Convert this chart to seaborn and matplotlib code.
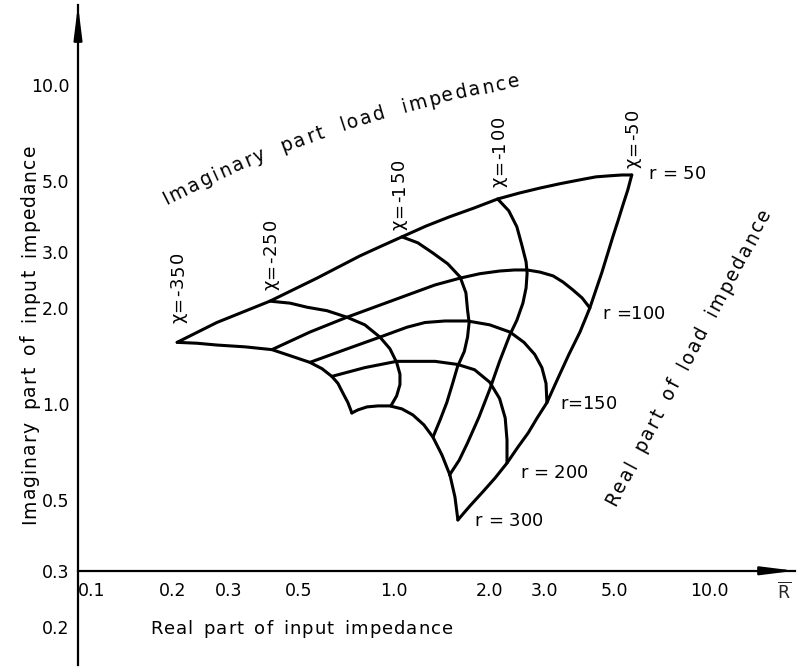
import numpy as np
import pandas as pd
import matplotlib
matplotlib.use("Agg")
import matplotlib.pyplot as plt
import seaborn as sns
from matplotlib.ticker import NullLocator
from matplotlib.textpath import TextPath
from matplotlib.font_manager import FontProperties
from matplotlib.transforms import IdentityTransform

# Constant load-resistance curves (r): input impedance, real / imaginary part
r50_x = [0.206, 0.275, 0.405, 0.571, 0.780, 0.903, 1.06, 1.263, 1.50, 1.79, 2.13,
         2.49, 2.90, 3.35, 3.88, 4.36, 4.83, 5.27, 5.66]
r50_y = [1.56, 1.80, 2.10, 2.48, 2.91, 3.11, 3.34, 3.61, 3.86, 4.11, 4.39,
         4.58, 4.75, 4.90, 5.04, 5.15, 5.19, 5.22, 5.22]
r100_x = [0.411, 0.542, 0.710, 1.083, 1.348, 1.62, 1.87, 2.16, 2.41, 2.64, 2.90,
          3.19, 3.43, 3.68, 3.94, 4.17]
r100_y = [1.48, 1.68, 1.87, 2.18, 2.36, 2.48, 2.56, 2.61, 2.63, 2.63, 2.59,
          2.52, 2.41, 2.28, 2.15, 2.00]
r150_x = [0.542, 0.700, 0.903, 1.10, 1.254, 1.45, 1.71, 2.01, 2.33, 2.58, 2.79,
          2.94, 3.03, 3.05]
r150_y = [1.35, 1.48, 1.62, 1.74, 1.80, 1.82, 1.82, 1.77, 1.68, 1.56, 1.43,
          1.30, 1.16, 1.01]
r200_x = [0.636, 0.809, 1.02, 1.15, 1.35, 1.59, 1.80, 2.01, 2.16, 2.25, 2.28, 2.28]
r200_y = [1.22, 1.30, 1.36, 1.36, 1.36, 1.33, 1.28, 1.17, 1.04, 0.904, 0.771, 0.653]
r300_x = [0.736, 0.769, 0.822, 0.890, 0.971, 1.06, 1.148, 1.244, 1.328, 1.419,
          1.504, 1.560, 1.594]
r300_y = [0.937, 0.958, 0.979, 0.986, 0.986, 0.965, 0.924, 0.860, 0.788, 0.692,
          0.599, 0.511, 0.433]

# Constant load-reactance curves (chi)
x50_x = [5.66, 5.50, 5.31, 5.12, 4.93, 4.55, 4.17, 3.88, 3.58, 3.30, 3.05, 2.84,
         2.66, 2.47, 2.28, 2.09, 1.91, 1.74, 1.594]
x50_y = [5.22, 4.69, 4.21, 3.75, 3.34, 2.58, 2.00, 1.68, 1.43, 1.20, 1.01, 0.904,
         0.811, 0.733, 0.653, 0.586, 0.530, 0.479, 0.433]
x100_x = [2.13, 2.31, 2.45, 2.54, 2.62, 2.64, 2.62, 2.56, 2.45, 2.33, 2.16, 2.01,
          1.86, 1.71, 1.61, 1.50]
x100_y = [4.39, 4.03, 3.59, 3.15, 2.79, 2.57, 2.31, 2.07, 1.83, 1.65, 1.36, 1.11,
          0.911, 0.755, 0.667, 0.599]
x150_x = [1.06, 1.19, 1.33, 1.48, 1.62, 1.69, 1.71, 1.73, 1.71, 1.67, 1.59, 1.53,
          1.47, 1.40, 1.33]
x150_y = [3.34, 3.20, 2.97, 2.75, 2.50, 2.23, 1.97, 1.80, 1.62, 1.46, 1.31, 1.15,
          1.01, 0.891, 0.788]
x250_x = [0.405, 0.469, 0.531, 0.614, 0.710, 0.809, 0.903, 0.971, 1.02, 1.045,
          1.045, 1.02, 0.978]
x250_y = [2.10, 2.07, 2.01, 1.96, 1.87, 1.77, 1.62, 1.49, 1.35, 1.24, 1.15, 1.06,
          0.986]
x350_x = [0.206, 0.238, 0.275, 0.338, 0.411, 0.476, 0.542, 0.592, 0.636, 0.665,
          0.690, 0.715, 0.736]
x350_y = [1.56, 1.55, 1.53, 1.51, 1.48, 1.41, 1.35, 1.29, 1.22, 1.16, 1.08, 1.01,
          0.937]

r_labels = ["r = 50", "r =100", "r=150", "r = 200", "r = 300"]
chi_labels = ["χ=-350", "χ=-250", "χ=-150", "χ=-100", "χ=-50"]

x_ticks = [0.1, 0.2, 0.3, 0.5, 1, 2, 3, 5, 10]
x_ticklabels = ["0.1", "0.2", "0.3", "0.5", "1.0", "2.0", "3.0", "5.0", "10.0"]
y_ticks = [0.2, 0.3, 0.5, 1, 2, 3, 5, 10]
y_ticklabels = ["0.2", "0.3", "0.5", "1.0", "2.0", "3.0", "5.0", "10.0"]

curves = [
    ("r50", r50_x, r50_y), ("r100", r100_x, r100_y), ("r150", r150_x, r150_y),
    ("r200", r200_x, r200_y), ("r300", r300_x, r300_y),
    ("x50", x50_x, x50_y), ("x100", x100_x, x100_y), ("x150", x150_x, x150_y),
    ("x250", x250_x, x250_y), ("x350", x350_x, x350_y),
]
df = pd.concat(
    [pd.DataFrame({"x": xs, "y": ys, "curve": name}) for name, xs, ys in curves],
    ignore_index=True,
)

sns.set_theme(style="white", rc={"axes.edgecolor": "black"})
plt.rcParams["font.family"] = ["DejaVu Sans"]
plt.rcParams["mathtext.fontset"] = "dejavusans"

W, H, DPI = 797, 670, 100
fig = plt.figure(figsize=(W / DPI, H / DPI), dpi=DPI)
fig.patch.set_facecolor("white")
ax = fig.add_axes([78 / W, 1 - 665 / H, (795 - 78) / W, (665 - 5) / H])
ax.set_xscale("log")
ax.set_yscale("log")
ax.set_xlim(0.1, 18.6)
ax.set_ylim(0.152, 17.8)
ax.patch.set_alpha(0)

sns.lineplot(data=df, x="x", y="y", units="curve", estimator=None, sort=False,
             color="black", linewidth=2.2, ax=ax, legend=False,
             solid_joinstyle="round", solid_capstyle="round")
ax.set_xlabel("")
ax.set_ylabel("")

# axes crossing at (0.1, 0.3)
for s in ("top", "right"):
    ax.spines[s].set_visible(False)
ax.spines["bottom"].set_position(("data", 0.3))
for s in ("left", "bottom"):
    ax.spines[s].set_linewidth(1.6)
    ax.spines[s].set_color("black")

ax.set_xticks(x_ticks, x_ticklabels)
ax.set_yticks(y_ticks, y_ticklabels)
ax.xaxis.set_minor_locator(NullLocator())
ax.yaxis.set_minor_locator(NullLocator())
ax.tick_params(axis="both", direction="in", length=9, width=1.5, labelsize=12.5,
               color="black", labelcolor="black")
ax.tick_params(axis="x", pad=8)
ax.tick_params(axis="y", pad=6)
ax.xaxis.get_major_ticks()[0].label1.set_horizontalalignment("left")

arrow = dict(arrowstyle="-|>,head_length=2.0,head_width=0.25", color="black",
             lw=1.6, shrinkA=0, shrinkB=0, mutation_scale=10)
ax.annotate("", xy=(1.0, 0.3), xycoords=ax.get_yaxis_transform(),
            xytext=(0.95, 0.3), textcoords=ax.get_yaxis_transform(),
            arrowprops=arrow, annotation_clip=False)
ax.annotate("", xy=(0.0, 1.0), xycoords="axes fraction",
            xytext=(0.0, 0.95), textcoords="axes fraction",
            arrowprops=arrow, annotation_clip=False)
fig.text(784, H - 598, r"$\overline{\mathrm{R}}$", transform=IdentityTransform(),
         fontsize=12.5, ha="center", va="baseline")


def advance(ch, fp):
    bar = TextPath((0, 0), "||", prop=fp).get_extents().width
    full = TextPath((0, 0), "|" + ch + "|", prop=fp).get_extents().width
    return (full - bar) * DPI / 72


def spaced_text(s, x0, y0, a0, a1=None, size=12, track=1.0, word_gap=0.0):
    """Letter-spaced text along a constant-curvature baseline.
    (x0, y0): baseline start in pixels from the top-left corner; angles in degrees."""
    fp = FontProperties(family="DejaVu Sans", size=size)
    advs = [advance(c, fp) + (word_gap if c == " " else 0.0) for c in s]
    total = sum(advs) + track * (len(s) - 1)
    a1 = a0 if a1 is None else a1
    t0, t1 = np.radians(a0), np.radians(a1)
    k = (t1 - t0) / total
    X0, Y0 = x0, H - y0

    def pos(d):
        t = t0 + k * d
        if abs(k) < 1e-9:
            return X0 + d * np.cos(t0), Y0 + d * np.sin(t0), t
        return X0 + (np.sin(t) - np.sin(t0)) / k, Y0 - (np.cos(t) - np.cos(t0)) / k, t

    d = 0.0
    for c, a in zip(s, advs):
        if c != " ":
            px, py, t = pos(d + a / 2)
            fig.text(px, py, c, transform=IdentityTransform(), fontproperties=fp,
                     rotation=np.degrees(t), rotation_mode="anchor",
                     ha="center", va="baseline", color="black")
        d += a + track


def node_px(x, y):
    dx, dy = ax.transData.transform((x, y))
    return dx, H - dy


# reactance labels above the top ends of the chi curves
chi_nodes = [(x350_x[0], x350_y[0]), (x250_x[0], x250_y[0]), (x150_x[0], x150_y[0]),
             (x100_x[0], x100_y[0]), (x50_x[0], x50_y[0])]
chi_offsets = [(6, 19), (6, 11), (2, 7), (6, 12), (6, 7)]
for lab, (nx, ny), (ox, oy) in zip(chi_labels, chi_nodes, chi_offsets):
    px, py = node_px(nx, ny)
    spaced_text(lab, px + ox, py - oy, 90, size=13, track=1.0)

# resistance labels beside the right-hand ends of the r curves
r_nodes = [(r50_x[-1], r50_y[-1]), (r100_x[-1], r100_y[-1]), (r150_x[-1], r150_y[-1]),
           (r200_x[-1], r200_y[-1]), (r300_x[-1], r300_y[-1])]
r_offsets = [(17, 4), (13, 11), (13, 6), (13, 15), (17, 6)]
for lab, (nx, ny), (ox, oy) in zip(r_labels, r_nodes, r_offsets):
    px, py = node_px(nx, ny)
    spaced_text(lab, px + ox, py + oy, 0, size=13, track=0.0)

# curved family captions
spaced_text("Imaginary part load impedance", 166, 205, 27, 10, size=13.5,
            track=2.0, word_gap=8)
spaced_text("Real part of load impedance", 615, 507, 62, size=13.5,
            track=2.0, word_gap=4)

# axis titles
spaced_text("Imaginary part of input impedance", 35, 524, 90, size=13.5,
            track=1.0, word_gap=5)
spaced_text("Real part of input impedance", 150, 634, 0, size=13,
            track=1.0, word_gap=3)

fig.savefig("out.png", dpi=DPI, facecolor="white")
